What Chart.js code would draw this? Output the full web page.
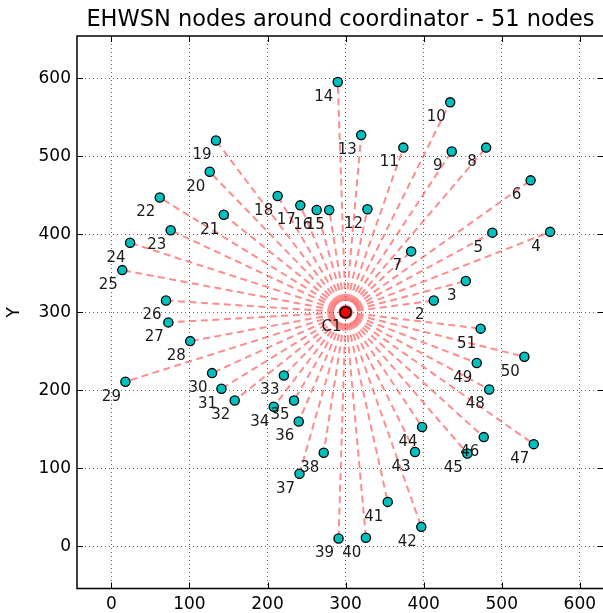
<!DOCTYPE html>
<html>
<head>
<meta charset="utf-8">
<script src="https://cdn.jsdelivr.net/npm/chart.js@4.4.1/dist/chart.umd.min.js"></script>
<style>
  html, body { margin: 0; padding: 0; background: #fff; overflow: hidden; }
  #wrap { width: 620px; height: 613px; }
</style>
</head>
<body>
<div id="wrap"><canvas id="nodesChart" width="620" height="613"></canvas></div>
<script>
// coordinator position
const coordX = 300;
const coordY = 300;
const coordLabel = "C1";

// node ids and positions
const nodeIds = [2, 3, 4, 5, 6, 7, 8, 9, 10, 11, 12, 13, 14, 15, 16, 17, 18, 19, 20, 21,
  22, 23, 24, 25, 26, 27, 28, 29, 30, 31, 32, 33, 34, 35, 36, 37, 38, 39, 40, 41,
  42, 43, 44, 45, 46, 47, 48, 49, 50, 51];
const nodeX = [413, 454, 562, 488, 537, 384, 480, 436, 434, 374, 328, 320, 290, 279, 263, 242, 213, 134, 126, 144,
  62, 76, 24, 14, 70, 73, 101, 18, 129, 141, 158, 221, 208, 234, 240, 241, 272, 291, 326, 354,
  397, 389, 398, 456, 477, 541, 484, 468, 529, 473];
const nodeY = [315, 340, 403, 402, 469, 378, 511, 506, 569, 511, 432, 527, 595, 431, 431, 437, 449, 520, 480, 425,
  447, 405, 389, 354, 315, 287, 263, 211, 222, 202, 187, 219, 179, 187, 160, 93, 120, 10, 11, 57,
  25, 121, 153, 119, 140, 131, 201, 235, 243, 279];

// tick labels
const xTicks = [0, 100, 200, 300, 400, 500, 600];
const yTicks = [0, 100, 200, 300, 400, 500, 600];

const titleText = "EHWSN nodes around coordinator - 51 nodes";
const fontFamily = "'DejaVu Sans', 'Liberation Sans', sans-serif";

// dashed links coordinator -> node, one dataset each
const linkSets = nodeIds.map((id, i) => ({
  type: "line",
  data: [{ x: coordX, y: coordY }, { x: nodeX[i], y: nodeY[i] }],
  borderColor: "rgba(255,0,0,0.45)",
  borderWidth: 2,
  borderDash: [7, 4.5],
  pointRadius: 0,
  fill: false,
  order: 3,
}));

const nodeSet = {
  type: "scatter",
  data: nodeIds.map((id, i) => ({ x: nodeX[i], y: nodeY[i] })),
  backgroundColor: "rgb(0,191,191)",
  borderColor: "#000",
  borderWidth: 1.3,
  pointRadius: 4.6,
  order: 2,
};

const coordSet = {
  type: "scatter",
  data: [{ x: coordX, y: coordY }],
  backgroundColor: "rgb(255,0,0)",
  borderColor: "#000",
  borderWidth: 1.5,
  pointRadius: 5.5,
  order: 1,
};

// spines, inward ticks and node labels
const framePlugin = {
  id: "frame",
  afterDatasetsDraw(chart) {
    const ctx = chart.ctx;
    const a = chart.chartArea;
    const xs = chart.scales.x;
    const ys = chart.scales.y;

    ctx.save();
    ctx.font = "15px " + fontFamily;
    ctx.fillStyle = "#1a1a1a";
    ctx.textAlign = "center";
    ctx.textBaseline = "middle";
    nodeIds.forEach((id, i) => {
      const px = xs.getPixelForValue(nodeX[i]);
      const py = ys.getPixelForValue(nodeY[i]);
      ctx.fillText(String(id), px - 14, py + 15);
    });
    ctx.fillText(coordLabel, xs.getPixelForValue(coordX) - 14, ys.getPixelForValue(coordY) + 15);
    ctx.restore();
  },
  afterDraw(chart) {
    const ctx = chart.ctx;
    const a = chart.chartArea;
    const xs = chart.scales.x;
    const ys = chart.scales.y;
    const len = 6;
    ctx.save();
    ctx.strokeStyle = "#000";
    ctx.lineWidth = 1;
    ctx.beginPath();
    xTicks.forEach((v) => {
      const px = Math.round(xs.getPixelForValue(v)) + 0.5;
      ctx.moveTo(px, a.bottom); ctx.lineTo(px, a.bottom - len);
      ctx.moveTo(px, a.top); ctx.lineTo(px, a.top + len);
    });
    yTicks.forEach((v) => {
      const py = Math.round(ys.getPixelForValue(v)) + 0.5;
      ctx.moveTo(a.left, py); ctx.lineTo(a.left + len, py);
      ctx.moveTo(a.right, py); ctx.lineTo(a.right - len, py);
    });
    ctx.stroke();
    ctx.lineWidth = 1.5;
    ctx.strokeRect(a.left, a.top, a.right - a.left, a.bottom - a.top);
    ctx.restore();
  },
};

new Chart(document.getElementById("nodesChart").getContext("2d"), {
  type: "scatter",
  data: { datasets: [...linkSets, nodeSet, coordSet] },
  options: {
    responsive: false,
    animation: false,
    layout: { padding: { left: 0, right: 16, top: 0, bottom: 0 } },
    plugins: {
      legend: { display: false },
      tooltip: { enabled: false },
      title: {
        display: true,
        text: titleText,
        fullSize: false,
        color: "#000",
        font: { family: fontFamily, size: 22.5, weight: "normal", lineHeight: 1.2 },
        padding: { top: 7, bottom: 2 },
      },
    },
    scales: {
      x: {
        type: "linear",
        min: -44,
        max: 631,
        afterBuildTicks: (s) => { s.ticks = xTicks.map((v) => ({ value: v })); },
        afterFit: (s) => { s.height = 24.5; },
        grid: { color: "rgba(0,0,0,0.6)", lineWidth: 1, drawTicks: false },
        border: { display: false, dash: [1, 3] },
        ticks: { color: "#000", padding: 6, font: { family: fontFamily, size: 17 } },
      },
      y: {
        type: "linear",
        min: -54,
        max: 654,
        afterBuildTicks: (s) => { s.ticks = yTicks.map((v) => ({ value: v })); },
        afterFit: (s) => { s.width = 77; },
        grid: { color: "rgba(0,0,0,0.6)", lineWidth: 1, drawTicks: false },
        border: { display: false, dash: [1, 3] },
        ticks: { color: "#000", padding: 6, font: { family: fontFamily, size: 17 } },
        title: {
          display: true,
          text: "Y",
          color: "#000",
          font: { family: fontFamily, size: 17 },
          padding: { top: 4, bottom: 0 },
        },
      },
    },
  },
  plugins: [framePlugin],
});
</script>
</body>
</html>
